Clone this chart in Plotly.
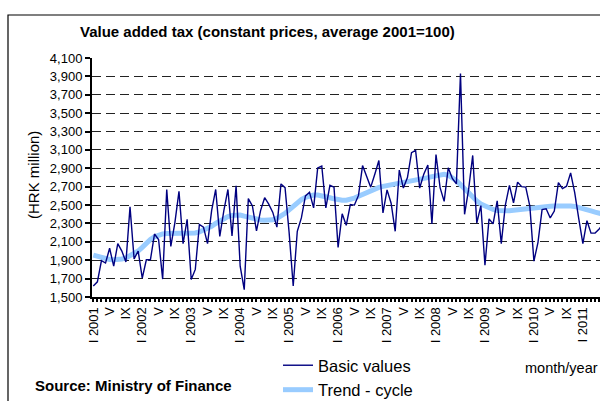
import plotly.graph_objects as go

# ---------------- data ----------------
years = list(range(2001, 2012))
roman = ["I", "II", "III", "IV", "V", "VI", "VII", "VIII", "IX", "X", "XI", "XII"]
months = [f"{roman[m]} {y}" for y in years for m in range(12)][:126]

basic_values = [
    1620, 1665, 1895, 1870, 2030, 1835, 2080, 2000, 1880, 2480, 1915, 2000,   # 2001
    1705, 1905, 1905, 2185, 2125, 1695, 2670, 2050, 2310, 2650, 2080, 2345,   # 2002
    1690, 1800, 2290, 2260, 2080, 2440, 2670, 2160, 2440, 2670, 2165, 2710,   # 2003
    1835, 1580, 2570, 2490, 2220, 2440, 2580, 2510, 2420, 2260, 2730, 2690,   # 2004
    2200, 1620, 2215, 2360, 2600, 2640, 2470, 2905, 2925, 2470, 2715, 2695,   # 2005
    2040, 2405, 2280, 2505, 2500, 2605, 2930, 2815, 2695, 2835, 2985, 2415,   # 2006
    2665, 2520, 2215, 2880, 2685, 2800, 3070, 3095, 2685, 2835, 2935, 2295,   # 2007
    3050, 2690, 2540, 2905, 2790, 2730, 3930, 2400, 2670, 3040, 2305, 2495,   # 2008
    1845, 2350, 2295, 2545, 2080, 2500, 2715, 2525, 2750, 2700, 2695, 2490,   # 2009
    1890, 2095, 2450, 2460, 2360, 2435, 2745, 2680, 2705, 2850, 2635, 2350,   # 2010
    2080, 2330, 2195, 2195, 2240, 2300,                                       # 2011
]

trend_cycle = [
    1955, 1942, 1928, 1916, 1908, 1905, 1907, 1914, 1925, 1945, 1970, 2000,   # 2001
    2040, 2085, 2125, 2155, 2175, 2186, 2190, 2190, 2188, 2186, 2184, 2184,   # 2002
    2188, 2196, 2208, 2224, 2245, 2270, 2300, 2330, 2355, 2375, 2388, 2393,   # 2003
    2392, 2380, 2366, 2354, 2345, 2338, 2334, 2334, 2340, 2355, 2378, 2410,   # 2004
    2448, 2490, 2528, 2560, 2585, 2602, 2610, 2610, 2603, 2592, 2580, 2568,   # 2005
    2557, 2552, 2553, 2561, 2576, 2596, 2618, 2640, 2660, 2678, 2693, 2704,   # 2006
    2712, 2718, 2724, 2730, 2738, 2746, 2754, 2763, 2773, 2785, 2798, 2810,   # 2007
    2822, 2832, 2835, 2825, 2800, 2765, 2722, 2675, 2628, 2585, 2545, 2512,   # 2008
    2488, 2468, 2452, 2442, 2437, 2436, 2439, 2444, 2450, 2456, 2462, 2467,   # 2009
    2473, 2477, 2480, 2483, 2486, 2489, 2492, 2494, 2494, 2491, 2485, 2476,   # 2010
    2464, 2450, 2436, 2423, 2412, 2402,                                       # 2011
]

y_ticks = list(range(1500, 4101, 200))

# tick labels: "I yyyy" for January, "V" for May, "IX" for September
tick_text = []
for lab in months:
    r, y = lab.split(" ")
    if r == "I":
        tick_text.append(lab)
    elif r in ("V", "IX"):
        tick_text.append(r)
    else:
        tick_text.append("")

x_idx = list(range(len(months)))

# ---------------- layout helpers ----------------
W, H = 600, 401
ML, MR, MT, MB = 92, 0, 58, 104
PW, PH = W - ML - MR, H - MT - MB


def px(x):
    return (x - ML) / PW


def py(y):
    return (H - MB - y) / PH


FONT = "Liberation Sans, Arial, sans-serif"

fig = go.Figure()
fig.add_trace(go.Scatter(
    x=x_idx, y=trend_cycle, mode="lines", name="Trend - cycle",
    line=dict(color="#99CCFF", width=5), legendrank=2,
))
fig.add_trace(go.Scatter(
    x=x_idx, y=basic_values, mode="lines", name="Basic values",
    line=dict(color="#000080", width=1.4), legendrank=1,
))

fig.update_layout(
    width=W, height=H,
    margin=dict(l=ML, r=MR, t=MT, b=MB, pad=0, autoexpand=False),
    paper_bgcolor="white", plot_bgcolor="white",
    font=dict(family=FONT, size=13, color="black"),
    showlegend=True,
    legend=dict(
        x=px(278), y=py(348), xanchor="left", yanchor="top",
        font=dict(size=16.5, family=FONT, color="black"),
        bgcolor="rgba(0,0,0,0)", tracegroupgap=0, itemwidth=30,
    ),
    xaxis=dict(
        range=[-0.32, 124.2], automargin=False,
        tickmode="array", tickvals=x_idx, ticktext=tick_text,
        tickangle=-90, ticks="outside", ticklen=3, tickwidth=1.5,
        tickcolor="black", showline=True, linecolor="black", linewidth=2,
        showgrid=False, zeroline=False,
        tickfont=dict(size=13, family=FONT),
    ),
    yaxis=dict(
        range=[1500, 4100], automargin=False, tickmode="array", tickvals=y_ticks,
        ticktext=[f"{v:,}" for v in y_ticks],
        ticks="outside", ticklen=5, tickwidth=1.5, tickcolor="black",
        showline=True, linecolor="black", linewidth=2,
        showgrid=True, gridcolor="#222222", gridwidth=1, griddash="9px,5px",
        zeroline=False, tickfont=dict(size=13, family=FONT),
    ),
)

# outer chart-area frame (extends past the visible window)
fig.add_shape(type="rect", xref="paper", yref="paper",
              x0=px(8), x1=px(640), y0=py(430), y1=py(15),
              line=dict(color="black", width=1.2), fillcolor="rgba(0,0,0,0)",
              layer="above")

fig.add_annotation(text="<b>Value added tax (constant prices, average 2001=100)</b>",
                   xref="paper", yref="paper", x=px(267.5), y=py(31.5),
                   xanchor="center", yanchor="middle", showarrow=False,
                   font=dict(size=15, family=FONT))
fig.add_annotation(text="(HRK million)", xref="paper", yref="paper",
                   x=px(33), y=py(175), textangle=-90,
                   xanchor="center", yanchor="middle", showarrow=False,
                   font=dict(size=15, family=FONT))
fig.add_annotation(text="<b>Source: Ministry of Finance</b>", xref="paper", yref="paper",
                   x=px(33), y=py(385), xanchor="left", yanchor="middle",
                   showarrow=False, font=dict(size=15, family=FONT))
fig.add_annotation(text="month/year", xref="paper", yref="paper",
                   x=px(523), y=py(368), xanchor="left", yanchor="middle",
                   showarrow=False, font=dict(size=14.5, family=FONT))

fig.write_html("out.html", config={"displayModeBar": False},
               post_script="document.body.style.margin='0';")
